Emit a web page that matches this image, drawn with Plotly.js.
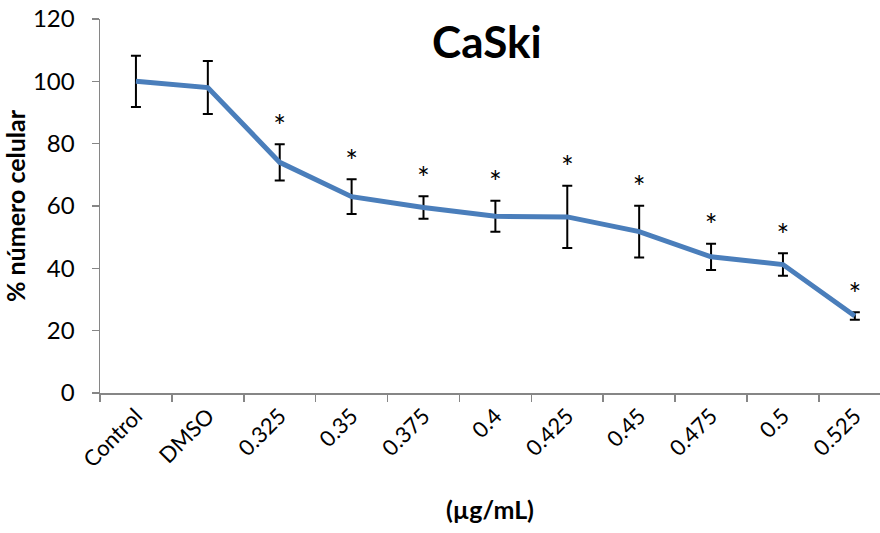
<!DOCTYPE html>
<html>
<head>
<meta charset="utf-8">
<script src="https://cdn.plot.ly/plotly-3.0.1.min.js"></script>
<style>html,body{margin:0;padding:0;background:#fff}#chart{width:880px;height:533px}</style>
</head>
<body>
<div id="chart"></div>
<script>
const categories = ["Control", "DMSO", "0.325", "0.35", "0.375", "0.4", "0.425", "0.45", "0.475", "0.5", "0.525"];
const values = [100, 98, 74, 63, 59.5, 56.7, 56.5, 51.8, 43.7, 41.2, 24.7];
const errors = [8.2, 8.5, 5.8, 5.6, 3.6, 5.0, 10.0, 8.3, 4.2, 3.6, 1.2];
const marks = ["", "", "*", "*", "*", "*", "*", "*", "*", "*", "*"];
const yTicks = [0, 20, 40, 60, 80, 100, 120];

const starY = values.map((v, i) => v + errors[i]);

const font = "Lato, 'Open Sans', 'Liberation Sans', sans-serif";

const traces = [
  {
    x: categories, y: values, type: "scatter", mode: "lines",
    line: {color: "#4A7EBB", width: 5},
    error_y: {type: "data", array: errors, visible: true, color: "#000", thickness: 2, width: 5},
    hoverinfo: "skip", showlegend: false
  },
  {
    x: categories, y: starY, type: "scatter", mode: "text",
    text: marks, textposition: "top center",
    textfont: {family: font, size: 30, color: "#000"},
    hoverinfo: "skip", showlegend: false
  }
];

const layout = {
  width: 880, height: 533,
  margin: {l: 100, r: 0, t: 19, b: 140},
  paper_bgcolor: "#fff", plot_bgcolor: "#fff",
  font: {family: font, color: "#000"},
  showlegend: false,
  title: {text: "<b>CaSki</b>", font: {family: font, size: 44, color: "#000"},
          x: 0.496, xanchor: "center", xref: "paper", y: 0.921, yanchor: "middle", yref: "container"},
  xaxis: {
    type: "category", range: [-0.5, 10.35],
    showline: true, linecolor: "#868686", linewidth: 1.5,
    ticks: "outside", tickson: "boundaries", ticklen: 7, tickcolor: "#868686", tickwidth: 1.5,
    tickangle: -45, tickfont: {family: font, size: 22, color: "#000"},
    showgrid: false, zeroline: false,
    title: {text: "<b>(µg/mL)</b>", font: {family: font, size: 25, color: "#000"}, standoff: 30}
  },
  yaxis: {
    range: [0, 120], tickvals: yTicks, ticktext: yTicks.map(String),
    showline: true, linecolor: "#868686", linewidth: 1.5,
    ticks: "outside", ticklen: 7, tickcolor: "#868686", tickwidth: 1.5,
    ticklabelstandoff: 12,
    tickfont: {family: font, size: 24, color: "#000"},
    showgrid: false, zeroline: false,
    title: {text: "<b>% número celular</b>", font: {family: font, size: 25, color: "#000"}, standoff: 3}
  }
};

Plotly.newPlot("chart", traces, layout, {displayModeBar: false, staticPlot: true});
</script>
</body>
</html>
